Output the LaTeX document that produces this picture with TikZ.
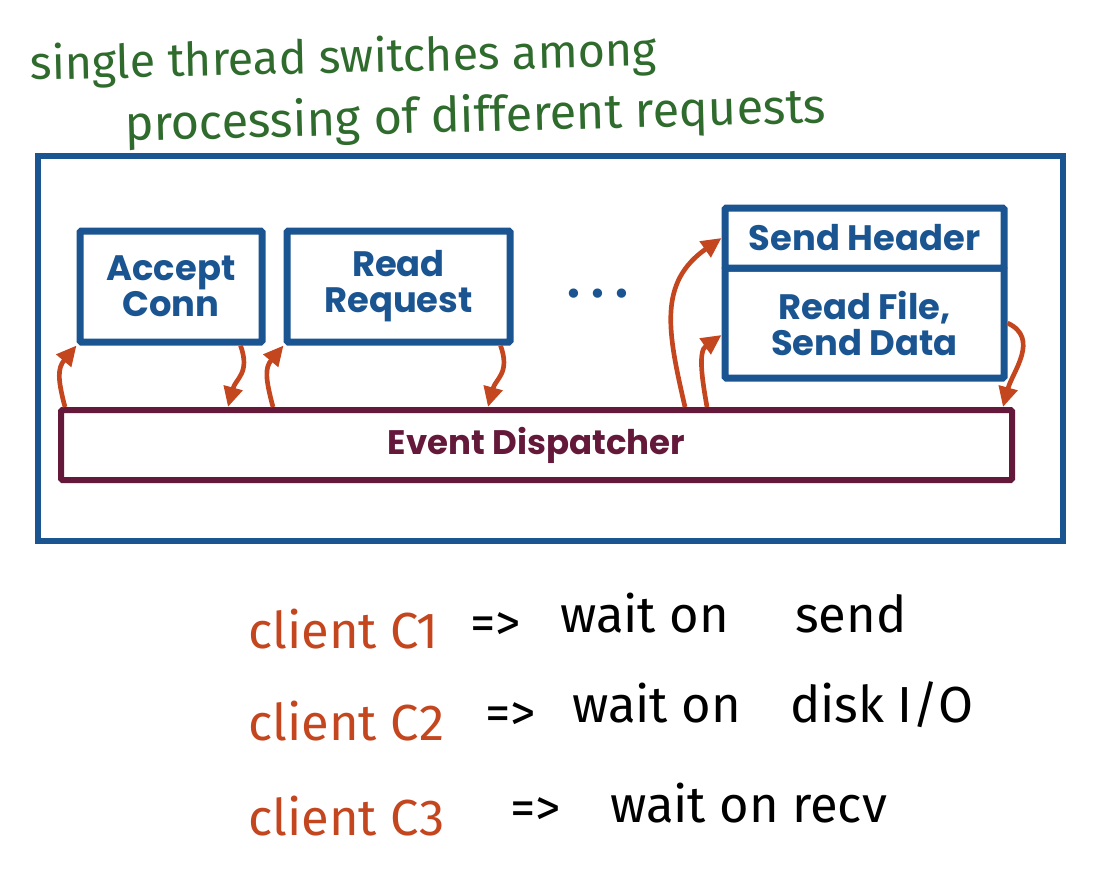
\documentclass[tikz,border=0pt]{standalone}
\usepackage{fontspec}
\setmainfont{Poppins}
\newfontfamily\hand{Fira Sans}
\newfontfamily\dejavu{DejaVu Sans}
\usetikzlibrary{arrows.meta,calc}
\definecolor{fblue}{HTML}{1A5591}
\definecolor{dmaroon}{HTML}{64193A}
\definecolor{corange}{HTML}{C4461E}
\definecolor{hgreen}{HTML}{2E6B2C}
\begin{document}
\begin{tikzpicture}[x=0.75pt,y=0.75pt,
  bluebox/.style={draw=fblue,line width=5.25pt,inner sep=0pt,fill=white,text=fblue,
    font=\fontsize{26.5}{27}\selectfont\bfseries,align=center,rounded corners=1pt},
  disbox/.style={draw=dmaroon,line width=4.5pt,inner sep=0pt,text=dmaroon,
    font=\fontsize{25.5}{27}\selectfont\bfseries,rounded corners=1pt},
  frame/.style={draw=fblue,line width=4.5pt,inner sep=0pt},
  arr/.style={draw=corange,line width=3.5pt,-{Triangle[length=15pt,width=14pt]}},
  hw/.style={text=hgreen,inner sep=0pt,anchor=base west},
  cl/.style={font=\hand\fontsize{38}{40}\selectfont,inner sep=0pt,anchor=base west}]
\path[use as bounding box] (0,0) rectangle (1095,-892);

% heading
\node[hw,rotate=1.3,font=\hand\fontsize{35}{36}\selectfont] (t1) at (30,-80) {single thread switches among};
\node[hw,rotate=1.5,font=\hand\fontsize{36.5}{38}\selectfont] (t2) at (125,-141) {processing of different requests};

% frame
\node[frame,minimum width=768.75pt,minimum height=288.75pt] (frame) at (550.5,-348.5) {};

% boxes
\node[bluebox,minimum width=136.5pt,minimum height=83.25pt] (acc) at (171,-286.5) {Accept\\Conn};
\node[bluebox,minimum width=167.25pt,minimum height=83.25pt] (rr) at (398.5,-286.5) {Read\\Request};
\node[text=fblue,font=\dejavu\fontsize{24}{24}\selectfont,inner sep=0pt] (dots) at (598,-297) {•\hspace{4pt}•\hspace{4pt}•};
\node[bluebox,minimum width=209.25pt,minimum height=82.5pt] (rf) at (864.5,-323) {Read File,\\Send Data};
\node[bluebox,minimum width=209.25pt,minimum height=45pt] (sh) at (864.5,-238) {Send Header};
\node[disbox,minimum width=713.25pt,minimum height=52.5pt] (disp) at (536.5,-445) {Event Dispatcher};

% arrows
\draw[arr] ($(disp.north west)+(7,0)$) to[out=105,in=230,looseness=1.2] (acc.south west);
\draw[arr] ($(acc.south east)+(-25,0)$) to[out=-70,in=75,looseness=1.2] ($(disp.north west)+(170,0)$);
\draw[arr] ($(disp.north west)+(215,0)$) to[out=105,in=230,looseness=1.2] (rr.south west);
\draw[arr] ($(rr.south east)+(-13,0)$) to[out=-70,in=75,looseness=1.2] ($(disp.north west)+(430,0)$);
\draw[arr] ($(disp.north west)+(627,0)$) to[out=103,in=215,looseness=1.15] (sh.west);
\draw[arr] ($(disp.north west)+(649,0)$) to[out=100,in=215] ($(rf.west)+(0,-12)$);
\draw[arr] (rf.east) to[out=-25,in=75,looseness=1.1] ($(disp.north east)+(-12,0)$);

% clients
\node[cl,text=corange] (c1) at (248,-648) {client C1};
\node[cl] (a1) at (470,-640) {=>};
\node[cl] (w1) at (560,-632) {wait on};
\node[cl] (s1) at (795,-632) {send};

\node[cl,text=corange] (c2) at (248,-740) {client C2};
\node[cl] (a2) at (485,-730) {=>};
\node[cl] (w2) at (572,-722) {wait on};
\node[cl] (d2) at (790,-722) {disk I/O};

\node[cl,text=corange] (c3) at (248,-835) {client C3};
\node[cl] (a3) at (510,-825) {=>};
\node[cl] (w3) at (610,-822) {wait on recv};
\end{tikzpicture}
\end{document}
